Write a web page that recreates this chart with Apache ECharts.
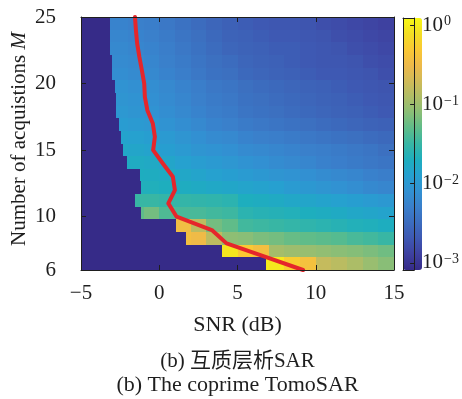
<!DOCTYPE html>
<html>
<head>
<meta charset="utf-8">
<script src="https://cdn.jsdelivr.net/npm/echarts@6/dist/echarts.min.js"></script>
<style>
  html, body { margin: 0; padding: 0; background: #ffffff; }
  #chart { width: 462px; height: 399px; }
</style>
</head>
<body>
<div id="chart"></div>
<script>
// SNR column edges (dB), 1 dB wide columns
const snrEdges = [-5, -4, -3, -2, -1, 0, 1, 2, 3, 4, 5, 6, 7, 8, 9, 10, 11, 12, 13, 14, 15];
// number of acquisitions, one heat-map row each (bottom to top)
const acquisitions = [6, 7, 8, 9, 10, 11, 12, 13, 14, 15, 16, 17, 18, 19, 20, 21, 22, 23, 24, 25];
// SNR where each row leaves the colour floor
const onsetSnr = [6.85, 4.0, 1.68, 1.07, -1.17, -1.55, -1.19, -1.23, -2.06, -2.32,
                  -2.45, -2.57, -2.76, -2.76, -2.8, -3.0, -3.0, -3.15, -3.15, -3.15];

// error per 1 dB SNR column for each M (null: below the colour floor)
const errM6  = [null, null, null, null, null, null, null, null, null, null, null, 1.0, 0.93, 0.55, 0.40, 0.17, 0.145, 0.12, 0.095, 0.078];
const errM7  = [null, null, null, null, null, null, null, null, null, 0.9, 0.5, 0.38, 0.11, 0.10, 0.094, 0.087, 0.08, 0.075, 0.068, 0.06];
const errM8  = [null, null, null, null, null, null, 0.38, 0.33, 0.15, 0.083, 0.078, 0.068, 0.063, 0.055, 0.051, 0.048, 0.045, 0.039, 0.036, 0.032];
const errM9  = [null, null, null, null, null, null, 0.35, 0.15, 0.063, 0.051, 0.036, 0.034, 0.032, 0.030, 0.028, 0.026, 0.024, 0.022, 0.021, 0.0195];
const errM10 = [null, null, null, 0.05, 0.063, 0.042, 0.039, 0.039, 0.036, 0.034, 0.026, 0.024, 0.023, 0.022, 0.020, 0.019, 0.0175, 0.016, 0.015, 0.014];
const errM11 = [null, null, null, 0.032, 0.032, 0.030, 0.030, 0.029, 0.028, 0.026, 0.020, 0.019, 0.0175, 0.016, 0.015, 0.014, 0.013, 0.012, 0.011, 0.010];
const errM12 = [null, null, null, 0.021, 0.021, 0.020, 0.019, 0.0175, 0.0165, 0.0155, 0.0145, 0.0135, 0.0125, 0.011, 0.010, 0.0091, 0.0083, 0.0074, 0.0066, 0.0060];
const errM13 = [null, null, null, 0.0195, 0.019, 0.018, 0.016, 0.0145, 0.013, 0.012, 0.011, 0.010, 0.0091, 0.0085, 0.0079, 0.0071, 0.0065, 0.0060, 0.0054, 0.0049];
const errM14 = [null, null, 0.0182, 0.018, 0.017, 0.015, 0.013, 0.0115, 0.0105, 0.0095, 0.0085, 0.0079, 0.0071, 0.0065, 0.0060, 0.0054, 0.0050, 0.0046, 0.0043, 0.0040];
const errM15 = [null, null, 0.0158, 0.015, 0.014, 0.012, 0.0105, 0.0091, 0.0085, 0.0079, 0.0069, 0.0065, 0.0060, 0.0056, 0.0052, 0.0049, 0.0046, 0.0043, 0.0040, 0.0035];
const errM16 = [null, null, 0.0138, 0.013, 0.012, 0.0105, 0.0091, 0.0079, 0.0069, 0.0065, 0.0056, 0.0052, 0.0049, 0.0046, 0.0043, 0.0040, 0.0037, 0.0035, 0.0032, 0.0030];
const errM17 = [null, null, 0.0112, 0.0105, 0.0098, 0.0085, 0.0074, 0.0065, 0.0056, 0.0052, 0.0046, 0.0043, 0.0040, 0.0037, 0.0035, 0.0032, 0.0030, 0.0028, 0.0026, 0.0025];
const errM18 = [null, null, 0.0098, 0.0091, 0.0085, 0.0074, 0.0065, 0.0056, 0.0049, 0.0046, 0.0040, 0.0037, 0.0035, 0.0032, 0.0030, 0.0028, 0.0026, 0.0025, 0.0023, 0.0021];
const errM19 = [null, null, 0.0091, 0.0085, 0.0079, 0.0069, 0.0060, 0.0052, 0.0046, 0.0043, 0.0037, 0.0035, 0.0032, 0.0030, 0.0028, 0.0026, 0.0025, 0.0023, 0.0021, 0.0020];
const errM20 = [null, null, 0.0085, 0.0079, 0.0074, 0.0065, 0.0056, 0.0049, 0.0043, 0.0040, 0.0035, 0.0032, 0.0030, 0.0028, 0.0026, 0.0025, 0.0023, 0.0021, 0.0020, 0.0019];
const errM21 = [null, null, 0.0074, 0.0069, 0.0065, 0.0056, 0.0049, 0.0043, 0.0037, 0.0035, 0.0030, 0.0028, 0.0026, 0.0025, 0.0023, 0.0021, 0.0021, 0.0020, 0.0019, 0.0017];
const errM22 = [null, null, 0.0069, 0.0065, 0.0060, 0.0052, 0.0046, 0.0040, 0.0035, 0.0032, 0.0028, 0.0026, 0.0025, 0.0023, 0.0021, 0.0020, 0.0020, 0.0019, 0.0017, 0.0016];
const errM23 = [null, 0.0065, 0.0065, 0.0060, 0.0056, 0.0049, 0.0043, 0.0037, 0.0032, 0.0028, 0.0026, 0.0025, 0.0023, 0.0023, 0.0021, 0.0020, 0.0019, 0.0017, 0.0016, 0.0015];
const errM24 = [null, 0.0060, 0.0060, 0.0056, 0.0052, 0.0046, 0.0040, 0.0035, 0.0030, 0.0026, 0.0025, 0.0023, 0.0021, 0.0021, 0.0020, 0.0019, 0.0017, 0.0016, 0.0015, 0.0014];
const errM25 = [null, 0.0056, 0.0056, 0.0052, 0.0049, 0.0043, 0.0037, 0.0032, 0.0028, 0.0025, 0.0023, 0.0021, 0.0020, 0.0020, 0.0019, 0.0017, 0.0016, 0.0015, 0.0014, 0.0013];

// required SNR (dB) for each M: the red threshold curve
const thresholdSnr = [9.19, 6.74, 4.30, 3.36, 1.11, 0.58, 1.0, 0.87, 0.23, -0.39,
                      -0.28, -0.41, -0.76, -0.92, -0.96, -1.11, -1.27, -1.41, -1.49, -1.55];

// axis ticks
const xTicks = [-5, 0, 5, 10, 15];
const yTicks = [6, 10, 15, 20, 25];
const colorTicks = [-3, -2, -1, 0];     // log10 of the colour-bar values

// colour limits in log10
const logMin = -3.09, logMax = 0.09;
const mMin = 6, mMax = 25;

// parula-style colour map, in the softer printed tones
const palette = ['#362b88', '#3e40a0', '#3e58b2', '#3c6cbe', '#3a7fcb', '#3291d2', '#26a0d0', '#1eaebe',
  '#37b6a5', '#5ebc8a', '#8abe76', '#afbd66', '#d0ba58', '#eeb94a', '#fac834', '#f3de24', '#f7f814'];

const rows = [errM6, errM7, errM8, errM9, errM10, errM11, errM12, errM13, errM14, errM15,
              errM16, errM17, errM18, errM19, errM20, errM21, errM22, errM23, errM24, errM25];

// cells: [snrFrom, snrTo, mFrom, mTo, log10(value)]
const rowSpan = (mMax - mMin) / acquisitions.length;
const cells = [];
rows.forEach((vals, r) => {
  const m0 = mMin + r * rowSpan, m1 = m0 + rowSpan;
  const onset = onsetSnr[r];
  cells.push([snrEdges[0], onset, m0, m1, logMin]);
  vals.forEach((v, c) => {
    const a = snrEdges[c], b = snrEdges[c + 1];
    if (b <= onset || v == null) return;
    const lv = Math.max(logMin, Math.min(logMax, Math.log10(v)));
    cells.push([Math.max(a, onset), b, m0, m1, lv]);
  });
});

const curve = thresholdSnr.map((s, i) => [s, acquisitions[i]]);

const ink = '#1e1e1e';
const serif = "'Liberation Serif', 'Noto Sans CJK SC', serif";
const minus = v => (v < 0 ? '\u2212' + (-v) : String(v));

const frameAxis = (extra) => Object.assign({
  axisLine: { show: true, onZero: false, lineStyle: { color: ink, width: 1 } },
  axisTick: { show: true, inside: true, length: 5, lineStyle: { color: ink, width: 1 } },
  axisLabel: { show: false },
  splitLine: { show: false },
  z: 6
}, extra);

const chart = echarts.init(document.getElementById('chart'), null, { renderer: 'canvas' });

chart.setOption({
  animation: false,
  backgroundColor: '#ffffff',
  grid: [
    { left: 81, top: 17, width: 313, height: 253 },
    { left: 403, top: 18, width: 19, height: 252 }
  ],
  xAxis: [
    frameAxis({ gridIndex: 0, type: 'value', position: 'bottom', min: -5, max: 15, interval: 5,
      axisLabel: { show: true, margin: 13, fontSize: 21, fontFamily: serif, color: ink, formatter: minus } }),
    frameAxis({ gridIndex: 0, type: 'value', position: 'top', min: -5, max: 15, interval: 5 }),
    frameAxis({ gridIndex: 1, type: 'value', position: 'bottom', min: 0, max: 1, axisTick: { show: false }, z: 10 }),
    frameAxis({ gridIndex: 1, type: 'value', position: 'top', min: 0, max: 1, axisTick: { show: false }, z: 10 })
  ],
  yAxis: [
    frameAxis({ gridIndex: 0, type: 'value', position: 'left', min: mMin, max: mMax,
      axisTick: { show: true, inside: true, length: 5, customValues: yTicks, lineStyle: { color: ink } },
      axisLabel: { show: true, margin: 25, fontSize: 21, fontFamily: serif, color: ink, customValues: yTicks } }),
    frameAxis({ gridIndex: 0, type: 'value', position: 'right', min: mMin, max: mMax,
      axisTick: { show: true, inside: true, length: 5, customValues: yTicks, lineStyle: { color: ink } } }),
    frameAxis({ gridIndex: 1, type: 'value', position: 'right', min: logMin, max: logMax, z: 10,
      axisTick: { show: true, inside: true, length: 4, customValues: colorTicks, lineStyle: { color: ink } },
      axisLabel: { show: true, margin: 8, customValues: colorTicks, color: ink,
        formatter: v => '{b|10}{s|' + minus(Math.round(v)) + '}',
        rich: {
          b: { fontSize: 21, fontFamily: serif, color: ink },
          s: { fontSize: 14, fontFamily: serif, color: ink, verticalAlign: 'top', padding: [0, 0, 4, 1] }
        } } }),
    frameAxis({ gridIndex: 1, type: 'value', position: 'left', min: logMin, max: logMax, axisTick: { show: false }, z: 10 })
  ],
  visualMap: {
    type: 'continuous',
    min: logMin, max: logMax,
    dimension: 4,
    seriesIndex: 0,
    inRange: { color: palette },
    orient: 'vertical',
    left: 403, top: 18,
    itemWidth: 19, itemHeight: 252,
    padding: 0,
    calculable: false,
    hoverLink: false,
    show: true
  },
  series: [
    {
      type: 'custom',
      xAxisIndex: 0, yAxisIndex: 0,
      data: cells,
      encode: { x: [0, 1], y: [2, 3] },
      renderItem: (params, api) => {
        const p0 = api.coord([api.value(0), api.value(2)]);
        const p1 = api.coord([api.value(1), api.value(3)]);
        const x0 = Math.round(p0[0]), x1 = Math.round(p1[0]);
        const y0 = Math.round(p0[1]), y1 = Math.round(p1[1]);
        return {
          type: 'rect',
          shape: { x: x0, y: y1, width: x1 - x0, height: y0 - y1 },
          style: { fill: api.visual('color') }
        };
      },
      z: 2
    },
    {
      type: 'line',
      xAxisIndex: 0, yAxisIndex: 0,
      data: curve,
      symbol: 'none',
      lineStyle: { color: '#e5262b', width: 4, join: 'round', cap: 'round' },
      z: 4
    }
  ],
  graphic: [
    { type: 'text', x: 237.5, y: 325, style: { text: 'SNR (dB)', font: '22px ' + serif, fill: ink, align: 'center', verticalAlign: 'middle' } },
    { type: 'text', x: 19, y: 139, rotation: Math.PI / 2,
      style: { text: 'Number of acquistions {i|M}', font: '21px ' + serif, fill: ink, align: 'center', verticalAlign: 'middle',
        rich: { i: { fontStyle: 'italic', fontSize: 21, fontFamily: serif, fill: ink } } } },
    { type: 'text', x: 237.5, y: 361, style: { text: '(b) 互质层析SAR', font: '21px ' + serif, fill: ink, align: 'center', verticalAlign: 'middle' } },
    { type: 'text', x: 237.5, y: 385, style: { text: '(b) The coprime TomoSAR', font: '22px ' + serif, fill: ink, align: 'center', verticalAlign: 'middle' } }
  ]
});
</script>
</body>
</html>
